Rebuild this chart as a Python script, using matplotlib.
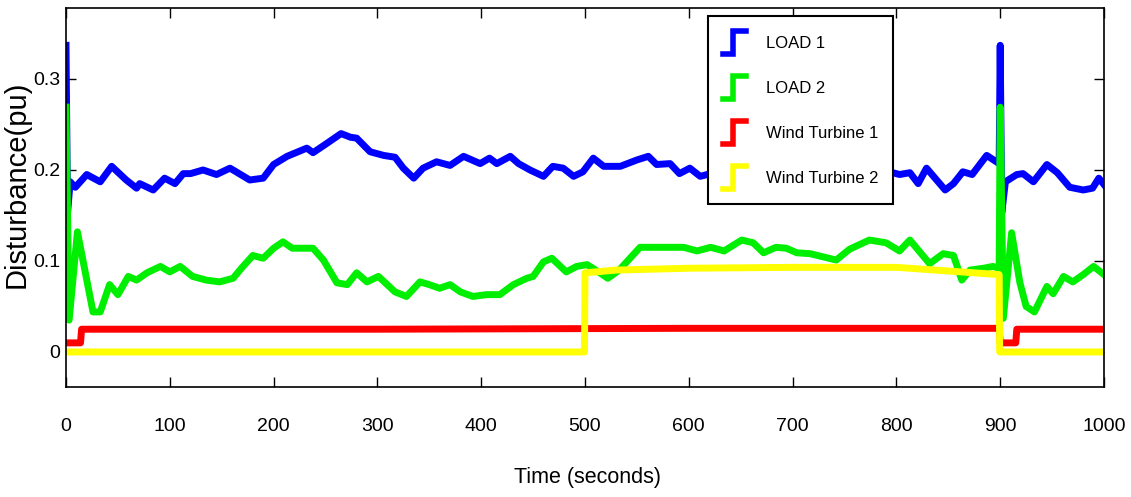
import matplotlib
matplotlib.use("Agg")
import matplotlib.pyplot as plt
from matplotlib import font_manager
from matplotlib.legend_handler import HandlerBase
from matplotlib.lines import Line2D

# Values
load1_t = [0, 1.5, 4, 9, 20, 33, 44, 58, 68, 71, 84, 95, 105, 113, 120, 132, 145, 158,
           177, 190, 200, 213, 232, 238, 251, 265, 274, 280, 293, 306, 317, 325, 335,
           344, 357, 370, 383, 399, 408, 415, 428, 436, 447, 460, 469, 479, 489, 498,
           508, 518, 534, 550, 561, 569, 582, 591, 601, 611, 621, 650, 690, 730, 760,
           787, 803, 813, 821, 829, 835, 847, 855, 864, 873, 887, 899, 900, 901.5, 905,
           916, 922, 932, 945, 955, 967, 980, 989, 995, 1000]
load1_v = [0.337, 0.153, 0.187, 0.181, 0.195, 0.187, 0.204, 0.189, 0.180, 0.185, 0.178,
           0.191, 0.185, 0.196, 0.196, 0.200, 0.195, 0.202, 0.189, 0.191, 0.206, 0.215,
           0.224, 0.219, 0.229, 0.240, 0.236, 0.235, 0.220, 0.216, 0.214, 0.202, 0.191,
           0.202, 0.209, 0.205, 0.215, 0.207, 0.213, 0.207, 0.215, 0.207, 0.200, 0.193,
           0.204, 0.202, 0.193, 0.198, 0.213, 0.204, 0.204, 0.211, 0.215, 0.206, 0.207,
           0.196, 0.202, 0.193, 0.196, 0.200, 0.205, 0.198, 0.203,
           0.200, 0.195, 0.197, 0.185, 0.202, 0.194, 0.178, 0.185, 0.198, 0.195, 0.216,
           0.207, 0.337, 0.153, 0.187, 0.195, 0.196, 0.187, 0.206, 0.197, 0.181, 0.178,
           0.180, 0.191, 0.184]

load2_t = [0, 3, 11, 26, 33, 42, 50, 60, 68, 78, 91, 100, 110, 122, 135, 148, 161, 169,
           180, 190, 200, 209, 218, 238, 248, 261, 271, 280, 290, 301, 317, 328, 341,
           350, 360, 370, 380, 392, 405, 418, 431, 444, 450, 460, 468, 482, 492, 502,
           513, 522, 533, 553, 575, 595, 608, 621, 634, 651, 662, 672, 684, 694, 704,
           717, 742, 755, 774, 790, 803, 813, 832, 845, 855, 863, 871, 884, 893, 899,
           900, 903, 911, 919, 925, 933, 945, 951, 961, 970, 980, 990, 1000]
load2_v = [0.269, 0.035, 0.132, 0.044, 0.044, 0.074, 0.063, 0.083, 0.079, 0.087, 0.094,
           0.088, 0.094, 0.083, 0.079, 0.077, 0.081, 0.092, 0.106, 0.103, 0.114, 0.121,
           0.114, 0.114, 0.101, 0.076, 0.074, 0.087, 0.077, 0.083, 0.066, 0.061, 0.077,
           0.074, 0.070, 0.074, 0.066, 0.061, 0.063, 0.063, 0.074, 0.081, 0.083, 0.099,
           0.103, 0.088, 0.094, 0.096, 0.088, 0.081, 0.090, 0.115, 0.115, 0.115, 0.111,
           0.115, 0.111, 0.123, 0.120, 0.109, 0.115, 0.114, 0.109, 0.108, 0.101, 0.113,
           0.123, 0.120, 0.111, 0.123, 0.097, 0.108, 0.106, 0.079, 0.090, 0.092, 0.094,
           0.092, 0.269, 0.037, 0.131, 0.076, 0.050, 0.044, 0.072, 0.064, 0.083, 0.077,
           0.085, 0.094, 0.085]

wt1_t = [0, 14, 15, 300, 600, 899, 900, 915, 916, 1000]
wt1_v = [0.010, 0.010, 0.025, 0.025, 0.026, 0.026, 0.010, 0.010, 0.025, 0.025]

wt2_t = [0, 499.5, 500, 530, 600, 700, 800, 850, 899, 899.5, 1000]
wt2_v = [0.0, 0.0, 0.087, 0.090, 0.092, 0.093, 0.093, 0.089, 0.085, 0.0, 0.0]

labels = ["LOAD 1", "LOAD 2", "Wind Turbine 1", "Wind Turbine 2"]
colors = ["#0000ff", "#00ee00", "#ff0000", "#ffff00"]

xticks = list(range(0, 1001, 100))
yticks = [0, 0.1, 0.2, 0.3]

# pick a narrow face if one is installed, the reference text is condensed
names = {f.name for f in font_manager.fontManager.ttflist}
narrow = "Liberation Sans"
for cand in ["Liberation Sans Narrow", "DejaVu Sans Condensed"]:
    if cand in names:
        narrow = cand
        break
plt.rcParams["font.family"] = [narrow, "DejaVu Sans"]


class StepHandler(HandlerBase):
    """Legend glyph drawn as a small step, like the MATLAB figure."""
    def create_artists(self, legend, orig_handle, xdescent, ydescent, width, height,
                       fontsize, trans):
        x0, y0 = -xdescent, -ydescent
        xs = [x0, x0 + 0.45 * width, x0 + 0.45 * width, x0 + width]
        ys = [y0, y0, y0 + height, y0 + height]
        line = Line2D(xs, ys, color=orig_handle.get_color(), lw=4,
                      solid_joinstyle="miter", transform=trans)
        return [line]


fig = plt.figure(figsize=(11.31, 4.97), dpi=100)
ax = fig.add_axes([66 / 1131, 1 - 387 / 497, 1038 / 1131, 379 / 497])

series = [(load1_t, load1_v), (load2_t, load2_v), (wt1_t, wt1_v), (wt2_t, wt2_v)]
handles = []
for (t, v), lab, col in zip(series, labels, colors):
    h, = ax.plot(t, v, color=col, lw=5, label=lab, solid_joinstyle="round")
    handles.append(h)

ax.set_xlim(0, 1000)
ax.set_ylim(-0.0385, 0.378)
ax.set_xticks(xticks)
ax.set_yticks(yticks)
ax.set_yticklabels(["0", "0.1", "0.2", "0.3"])
ax.tick_params(direction="in", top=True, right=True, length=7, width=1,
               labelsize=14, colors="black")
ax.tick_params(axis="x", pad=22)
ax.tick_params(axis="y", pad=4)
for s in ax.spines.values():
    s.set_linewidth(1.2)
    s.set_color("black")

ax.set_xlabel("Time (seconds)", fontsize=15.5, va="center")
ax.xaxis.set_label_coords((588 - 66) / 1038, (387 - 477) / 379)
ax.set_ylabel("Disturbance(pu)", fontsize=21, family=["Liberation Sans", "DejaVu Sans"],
              va="center", ha="center")
ax.yaxis.set_label_coords((17 - 66) / 1038, (387 - 184) / 379)

leg = ax.legend(handles=handles, handler_map={Line2D: StepHandler()},
                loc="upper left", bbox_to_anchor=((708 - 66) / 1038, (387 - 16) / 379),
                borderaxespad=0, fontsize=12, handlelength=1.38, handleheight=1.8,
                handletextpad=1.2, labelspacing=1.29, borderpad=0.87,
                fancybox=False, framealpha=1, edgecolor="black")
leg.get_frame().set_linewidth(1.5)

fig.savefig("out.png", dpi=100)
